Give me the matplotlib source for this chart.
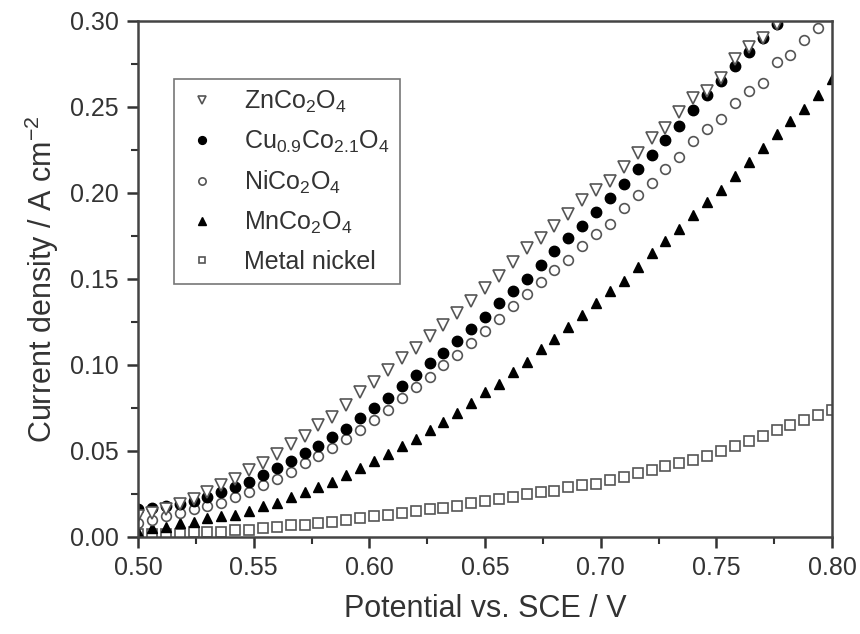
import matplotlib
matplotlib.use("Agg")
import matplotlib.pyplot as plt
from matplotlib.ticker import MultipleLocator

plt.rcParams['font.family'] = ['Liberation Sans', 'DejaVu Sans']
plt.rcParams['mathtext.default'] = 'regular'

# potential (V vs. SCE)
potential = [0.500, 0.506, 0.512, 0.518, 0.524, 0.530, 0.536, 0.542, 0.548, 0.554,
             0.560, 0.566, 0.572, 0.578, 0.584, 0.590, 0.596, 0.602, 0.608, 0.614,
             0.620, 0.626, 0.632, 0.638, 0.644, 0.650, 0.656, 0.662, 0.668, 0.674,
             0.680, 0.686, 0.692, 0.698, 0.704, 0.710, 0.716, 0.722, 0.728, 0.734,
             0.740, 0.746, 0.752, 0.758, 0.764, 0.770, 0.776, 0.782, 0.788, 0.794,
             0.800]

# current density (A cm-2)
zn_co2o4 = [0.012, 0.014, 0.016, 0.019, 0.022, 0.026, 0.030, 0.034, 0.039, 0.043,
            0.048, 0.054, 0.059, 0.065, 0.070, 0.077, 0.084, 0.090, 0.097, 0.104,
            0.110, 0.117, 0.123, 0.130, 0.137, 0.145, 0.152, 0.160, 0.168, 0.174,
            0.181, 0.188, 0.196, 0.202, 0.207, 0.215, 0.223, 0.232, 0.238, 0.247,
            0.255, 0.259, 0.267, 0.278, 0.285, 0.290, 0.298, 0.306, 0.314, 0.322,
            0.330]
cu_co2o4 = [0.016, 0.017, 0.018, 0.019, 0.021, 0.023, 0.026, 0.029, 0.032, 0.036,
            0.040, 0.044, 0.049, 0.053, 0.058, 0.063, 0.069, 0.075, 0.081, 0.088,
            0.094, 0.101, 0.107, 0.114, 0.121, 0.128, 0.136, 0.143, 0.150, 0.158,
            0.166, 0.174, 0.181, 0.189, 0.197, 0.205, 0.214, 0.222, 0.231, 0.239,
            0.248, 0.257, 0.265, 0.274, 0.282, 0.290, 0.298, 0.306, 0.314, 0.322,
            0.330]
ni_co2o4 = [0.008, 0.010, 0.012, 0.014, 0.016, 0.018, 0.020, 0.023, 0.026, 0.030,
            0.034, 0.038, 0.043, 0.047, 0.052, 0.057, 0.062, 0.068, 0.074, 0.081,
            0.087, 0.093, 0.100, 0.106, 0.113, 0.120, 0.127, 0.134, 0.141, 0.148,
            0.155, 0.161, 0.169, 0.176, 0.182, 0.191, 0.199, 0.206, 0.214, 0.221,
            0.230, 0.237, 0.243, 0.252, 0.259, 0.264, 0.276, 0.280, 0.289, 0.296,
            0.306]
mn_co2o4 = [0.003, 0.005, 0.006, 0.008, 0.009, 0.011, 0.012, 0.013, 0.015, 0.018,
            0.020, 0.023, 0.026, 0.029, 0.032, 0.036, 0.040, 0.044, 0.048, 0.053,
            0.057, 0.062, 0.067, 0.072, 0.078, 0.084, 0.089, 0.096, 0.102, 0.109,
            0.115, 0.122, 0.129, 0.136, 0.143, 0.149, 0.157, 0.165, 0.172, 0.179,
            0.187, 0.195, 0.202, 0.210, 0.218, 0.226, 0.234, 0.242, 0.249, 0.257,
            0.266]
metal_ni = [0.002, 0.002, 0.002, 0.002, 0.003, 0.003, 0.003, 0.004, 0.004, 0.005,
            0.006, 0.007, 0.007, 0.008, 0.009, 0.010, 0.011, 0.012, 0.013, 0.014,
            0.015, 0.016, 0.017, 0.018, 0.020, 0.021, 0.022, 0.023, 0.025, 0.026,
            0.027, 0.029, 0.030, 0.031, 0.033, 0.035, 0.037, 0.039, 0.041, 0.043,
            0.045, 0.047, 0.050, 0.053, 0.056, 0.059, 0.062, 0.065, 0.068, 0.071,
            0.074]

fig = plt.figure(figsize=(8.6, 6.34), dpi=100)
ax = fig.add_axes([0.1605, 0.153, 0.807, 0.814])

grey = '#555555'
h_ni, = ax.plot(potential, metal_ni, 's', ms=6.5, mfc='white', mec=grey, mew=1.2,
                label='Metal nickel')
h_mn, = ax.plot(potential, mn_co2o4, '^', ms=7.5, color='black',
                label=r'MnCo$_2$O$_4$')
h_nico, = ax.plot(potential, ni_co2o4, 'o', ms=7, mfc='white', mec=grey, mew=1.2,
                  label=r'NiCo$_2$O$_4$')
h_cu, = ax.plot(potential, cu_co2o4, 'o', ms=7.5, color='black',
                label=r'Cu$_{0.9}$Co$_{2.1}$O$_4$')
h_zn, = ax.plot(potential, zn_co2o4, 'v', ms=8, mfc='white', mec=grey, mew=1.2,
                label=r'ZnCo$_2$O$_4$')

ax.set_xlim(0.50, 0.80)
ax.set_ylim(0.00, 0.30)
ax.xaxis.set_major_locator(MultipleLocator(0.05))
ax.xaxis.set_minor_locator(MultipleLocator(0.025))
ax.yaxis.set_major_locator(MultipleLocator(0.05))
ax.yaxis.set_minor_locator(MultipleLocator(0.025))
ax.xaxis.set_major_formatter(plt.FormatStrFormatter('%.2f'))
ax.yaxis.set_major_formatter(plt.FormatStrFormatter('%.2f'))
ax.tick_params(which='major', direction='out', length=8, width=1.8, labelsize=18,
               colors='#333333', pad=6)
ax.tick_params(which='minor', direction='out', length=5, width=1.5, colors='#333333')
for s in ax.spines.values():
    s.set_linewidth(1.8)
    s.set_color('#444444')

ax.set_xlabel('Potential vs. SCE / V', fontsize=22, color='#333333', labelpad=10)
ax.set_ylabel(r'Current density / A cm$^{-2}$', fontsize=22, color='#333333', labelpad=6)

leg = ax.legend(handles=[h_zn, h_cu, h_nico, h_mn, h_ni], loc='upper left',
                bbox_to_anchor=(0.052, 0.888), borderaxespad=0, fontsize=18,
                fancybox=False, framealpha=1, edgecolor='#777777',
                markerscale=0.75, handlelength=1.4, handletextpad=1.0,
                labelspacing=0.55, borderpad=0.4)
leg.get_frame().set_linewidth(1.2)
for t in leg.get_texts():
    t.set_color('#333333')

fig.savefig('out.png', dpi=100)
